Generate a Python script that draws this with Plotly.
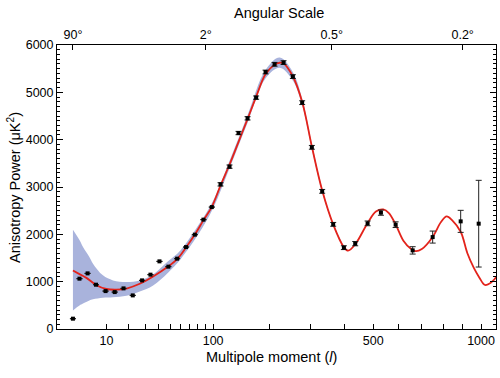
import numpy as np
import plotly.graph_objects as go

# ---------------- data ----------------
# binned measurements: multipole l, power D (uK^2), 1-sigma error
data_l = [2, 3, 4.6, 6.7, 9.7, 13.2, 17.2, 22.1, 27.8, 33.6, 40.6, 48.3, 56.7, 66.1,
          76.2, 86.9, 98.2, 110.8, 124.8, 139.8, 155.9, 172.2, 191.2, 210.5, 230.9,
          253.2, 276.7, 302.6, 331.7, 364.5, 398.2, 435.8, 479.3, 528.9, 587.1, 659,
          750, 889.5, 986.8]
data_D = [218, 1063, 1175, 936, 801, 780, 858, 710, 1027, 1148, 1429, 1317, 1486, 1731,
          1993, 2310, 2576, 3056, 3430, 4140, 4451, 4888, 5429, 5592, 5628,
          5332, 4782, 3838, 2908, 2211, 1718, 1803, 2232, 2458, 2204, 1661,
          1942, 2274, 2225]
data_err = [0, 0, 0, 0, 0, 0, 0, 0, 0, 0, 0, 0, 0, 0,
            0, 0, 0, 35, 35, 35, 35, 35, 40, 40, 40,
            40, 40, 40, 40, 40, 40, 45, 50, 55, 60, 78,
            127, 233, 916]

# best-fit model curve
model_l = [2, 3, 4.35, 6.83, 10, 13.9, 18.7, 26.3, 35.6, 48.1, 57, 66, 76, 87, 98,
           111, 125, 140, 156, 172, 191, 210, 222, 231, 253, 277, 303, 332, 365,
           398, 412, 436, 479, 510, 538, 560, 587, 620, 650, 672, 700, 750, 790,
           818, 845, 890, 925, 960, 990, 1022, 1060, 1090]
model_D = [1235, 1160, 1080, 925, 845, 830, 855, 955, 1110, 1320, 1480, 1720, 1990, 2300, 2576,
           3040, 3480, 3960, 4440, 4900, 5380, 5580, 5625, 5610, 5340, 4790, 3840, 2920, 2200,
           1730, 1655, 1790, 2235, 2480, 2525, 2450, 2210, 1860, 1700, 1645, 1690, 1945, 2260,
           2380, 2300, 2050, 1600, 1290, 1090, 930, 990, 1110]

# cosmic-variance band
band_l = [2, 3, 3.65, 5, 5.9, 8.8, 12.5, 18.7, 26.3, 35.6, 48, 60, 80, 100, 125, 156,
          191, 222, 253, 277, 303, 332, 365, 398]
band_lo = [393, 499, 540, 604, 630, 661, 670, 700, 790, 920, 1190, 1470, 1990, 2550, 3400, 4360,
           5290, 5520, 5250, 4720, 3780, 2880, 2175, 1710]
band_hi = [2098, 1880, 1731, 1520, 1380, 1133, 1027, 991, 1027, 1154, 1430, 1660, 2180, 2710, 3560, 4520,
           5470, 5735, 5430, 4860, 3900, 2960, 2225, 1750]

# axis ticks
bottom_ticks = [10, 100, 500, 1000]
bottom_labels = ["10", "100", "500", "1000"]
bottom_minor = [20, 30, 40, 50, 60, 70, 80, 90, 200, 300, 400, 600, 700, 800, 900]
angle_deg = [90, 2, 0.5, 0.2]
angle_labels = ["90°", "2°", "0.5°", "0.2°"]

# ---------------- axis scale: l^0.4 ----------------
P = 0.4
def tx(v):
    return np.power(np.asarray(v, dtype=float), P)

x_range = [0.752, 16.381]
FONT = "Liberation Sans, Arial, Helvetica, sans-serif"

fig = go.Figure()
fig.add_trace(go.Scatter(x=tx(band_l), y=band_lo, mode="lines",
                         line=dict(width=0, shape="spline", color="rgba(0,0,0,0)"),
                         hoverinfo="skip", showlegend=False))
fig.add_trace(go.Scatter(x=tx(band_l), y=band_hi, mode="lines", fill="tonexty",
                         fillcolor="#a9b3dc",
                         line=dict(width=0, shape="spline", color="rgba(0,0,0,0)"),
                         hoverinfo="skip", showlegend=False))
fig.add_trace(go.Scatter(x=tx(model_l), y=model_D, mode="lines",
                         line=dict(color="#e3231b", width=1.8, shape="spline"),
                         showlegend=False))
fig.add_trace(go.Scatter(x=tx(data_l), y=data_D, mode="markers",
                         marker=dict(color="black", size=4, symbol="square"),
                         error_y=dict(type="data", array=data_err, visible=True,
                                      color="#222222", thickness=1, width=3),
                         showlegend=False))
# invisible trace on the top axis so that it renders
fig.add_trace(go.Scatter(x=tx([2]), y=[-1000], xaxis="x2", mode="markers",
                         marker=dict(opacity=0), hoverinfo="skip", showlegend=False))

fig.update_layout(
    width=500, height=378,
    margin=dict(l=57, r=4, t=45, b=49),
    paper_bgcolor="white", plot_bgcolor="white",
    font=dict(family=FONT, size=12.5, color="black"),
    xaxis=dict(range=x_range, tickmode="array", tickvals=tx(bottom_ticks),
               ticktext=bottom_labels, ticks="inside", ticklen=5, tickcolor="black",
               showline=True, linecolor="black", linewidth=1, showgrid=False,
               zeroline=False, tickfont=dict(size=12.5),
               minor=dict(tickmode="array", tickvals=tx(bottom_minor), ticks="inside",
                          ticklen=5, tickcolor="black", showgrid=False)),
    xaxis2=dict(range=x_range, overlaying="x", side="top", anchor="y",
                tickmode="array", tickvals=tx([180.0 / a for a in angle_deg]),
                ticktext=angle_labels, ticks="inside", ticklen=5, tickcolor="black",
                showline=True, linecolor="black", linewidth=1, showgrid=False,
                zeroline=False, tickfont=dict(size=12.5)),
    yaxis=dict(range=[0, 6000], tickmode="array",
               tickvals=[0, 1000, 2000, 3000, 4000, 5000, 6000],
               ticks="inside", ticklen=6, tickcolor="black", mirror="ticks",
               showline=True, linecolor="black", linewidth=1, showgrid=False,
               zeroline=False, tickfont=dict(size=12.5),
               minor=dict(dtick=100, ticks="inside", ticklen=3, tickcolor="black",
                          showgrid=False)),
    annotations=[
        dict(text="Multipole moment (<i>l</i>)", xref="paper", yref="paper",
             x=0.4875, y=-0.1, xanchor="center", yanchor="middle",
             showarrow=False, font=dict(size=14.5)),
        dict(text="Anisotropy Power (μK<sup>2</sup>)", xref="paper", yref="paper",
             x=-0.098, y=0.5, xanchor="center", yanchor="middle", textangle=-90,
             showarrow=False, font=dict(size=14.5)),
        dict(text="Angular Scale", xref="paper", yref="paper",
             x=0.506, y=1.1117, xanchor="center", yanchor="middle",
             showarrow=False, font=dict(size=14.5)),
    ],
)

fig.write_html("out.html", config={"displayModeBar": False},
               post_script="document.body.style.margin='0px';")
